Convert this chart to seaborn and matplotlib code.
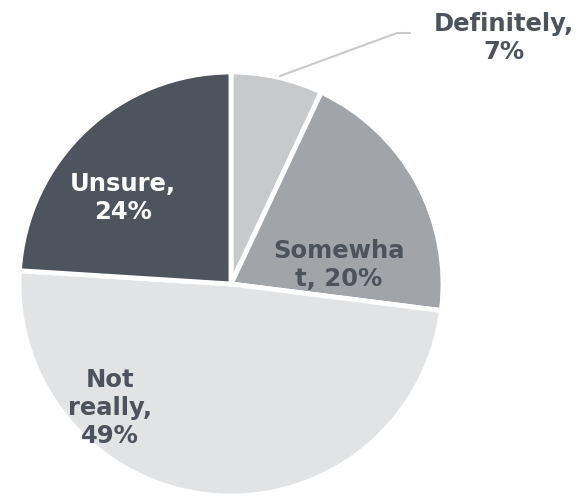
import matplotlib
matplotlib.use("Agg")
import matplotlib.pyplot as plt
import seaborn as sns

categories = ["Definitely", "Somewhat", "Not really", "Unsure"]
values = [7, 20, 49, 24]
labels = ["Definitely,\n7%", "Somewha\nt, 20%", "Not\nreally,\n49%", "Unsure,\n24%"]
colors = ["#c8c9cb", "#a1a4a9", "#e2e3e5", "#4d545e"]
label_colors = ["#4d535c", "#4d535c", "#4d535c", "#ffffff"]

sns.set_theme(style="white")
plt.rcParams["font.family"] = ["DejaVu Sans"]

W, H = 587, 499
cx, cy, R = 231, 284, 212
fig = plt.figure(figsize=(W / 100, H / 100), dpi=100)
ax = fig.add_axes([0, 0, 1, 1])

ax.pie(values, colors=colors, startangle=90, counterclock=False, radius=1,
       wedgeprops=dict(edgecolor="white", linewidth=3.5))

ax.set_xlim(-cx / R, (W - cx) / R)
ax.set_ylim(-(H - cy) / R, cy / R)
ax.set_aspect("equal")
ax.axis("off")

def px(x, y):
    return ((x - cx) / R, (cy - y) / R)

pos = [(504, 38), (339, 265), (110, 408), (123, 198)]
for lab, p, c in zip(labels, pos, label_colors):
    x, y = px(*p)
    ax.text(x, y, lab, ha="center", va="center", fontsize=17.5, fontweight="bold",
            color=c, linespacing=1.2)

# leader line for Definitely
x0, y0 = px(280, 76)
x1, y1 = px(397, 33)
x2, y2 = px(410, 33)
ax.plot([x0, x1, x2], [y0, y1, y2], color="#c8c9cb", lw=1.5)

fig.savefig("out.png", dpi=100)
